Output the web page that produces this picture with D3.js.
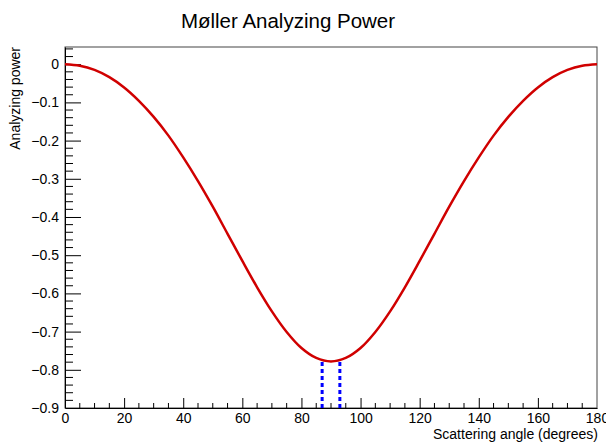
<!DOCTYPE html>
<html>
<head>
<meta charset="utf-8">
<script src="https://cdn.jsdelivr.net/npm/d3@7"></script>
<style>
  body { margin: 0; background: #fff; }
  svg { display: block; font-family: "Liberation Sans", Arial, sans-serif; }
</style>
</head>
<body>
<div id="chart"></div>
<script>
/* DATA */
const angles = [0, 5, 10, 15, 20, 25, 30, 35, 40, 45, 50, 55, 60, 65, 70, 75, 80, 85, 90,
  95, 100, 105, 110, 115, 120, 125, 130, 135, 140, 145, 150, 155, 160, 165, 170, 175, 180];
const power = [0, -0.004, -0.015, -0.034, -0.061, -0.096, -0.138, -0.187, -0.244, -0.306,
  -0.373, -0.444, -0.515, -0.584, -0.647, -0.701, -0.743, -0.769, -0.778,
  -0.769, -0.743, -0.701, -0.647, -0.584, -0.515, -0.444, -0.373, -0.306,
  -0.244, -0.187, -0.138, -0.096, -0.061, -0.034, -0.015, -0.004, 0];
const markerAngles = [87, 93];
const markerTops = [-0.775, -0.775];
const xTicks = [0, 20, 40, 60, 80, 100, 120, 140, 160, 180];
const yTicks = [0, -0.1, -0.2, -0.3, -0.4, -0.5, -0.6, -0.7, -0.8, -0.9];

/* LAYOUT */
const width = 606, height = 446;
const margin = { top: 47, right: 9, bottom: 38, left: 65 };

const svg = d3.select("#chart").append("svg")
  .attr("width", width)
  .attr("height", height);

const xScale = d3.scaleLinear()
  .domain([0, 180])
  .range([margin.left, width - margin.right]);

const yScale = d3.scaleLinear()
  .domain([-0.9, 0.045])
  .range([height - margin.bottom, margin.top]);

// frame
svg.append("rect")
  .attr("x", margin.left)
  .attr("y", margin.top)
  .attr("width", width - margin.left - margin.right)
  .attr("height", height - margin.top - margin.bottom)
  .attr("fill", "none")
  .attr("stroke", "#444")
  .attr("stroke-width", 1);

// x axis: major every 20, minor every 5
const xAxis = d3.axisBottom(xScale)
  .tickValues(xTicks)
  .tickFormat(d3.format("d"))
  .tickSizeInner(-10)
  .tickSizeOuter(0)
  .tickPadding(5);
const gx = svg.append("g")
  .attr("transform", `translate(0, ${height - margin.bottom})`)
  .call(xAxis);
gx.selectAll(".tick")
  .filter(d => d === 0 || d === 180)
  .select("line").remove();
gx.selectAll("text").attr("font-size", 14).attr("fill", "#000");

const xMinor = d3.range(0, 181, 5).filter(d => d % 20 !== 0);
svg.append("g").selectAll("line")
  .data(xMinor)
  .join("line")
  .attr("x1", d => xScale(d)).attr("x2", d => xScale(d))
  .attr("y1", height - margin.bottom).attr("y2", height - margin.bottom - 5)
  .attr("stroke", "#000");

// y axis: major every 0.1, minor every 0.02
const yAxis = d3.axisLeft(yScale)
  .tickValues(yTicks)
  .tickFormat(d => d === 0 ? "0" : d3.format(".1f")(d))
  .tickSizeInner(-16)
  .tickSizeOuter(0)
  .tickPadding(4);
const gy = svg.append("g")
  .attr("transform", `translate(${margin.left}, 0)`)
  .call(yAxis);
gy.selectAll(".tick").filter(d => d === -0.9).select("line").remove();
gy.selectAll("text").attr("font-size", 14).attr("fill", "#000")
  .attr("dx", -2);

const yMinor = d3.range(-44, 3).map(i => i * 0.02)
  .filter(d => Math.abs(Math.round(d * 10) - d * 10) > 1e-6);
svg.append("g").selectAll("line")
  .data(yMinor)
  .join("line")
  .attr("x1", margin.left).attr("x2", margin.left + 8)
  .attr("y1", d => yScale(d)).attr("y2", d => yScale(d))
  .attr("stroke", "#000");

// curve
const points = angles.map((a, i) => ({ a, p: power[i] }));
const line = d3.line()
  .x(d => xScale(d.a))
  .y(d => yScale(d.p))
  .curve(d3.curveCatmullRom);
svg.append("path")
  .datum(points)
  .attr("d", line)
  .attr("fill", "none")
  .attr("stroke", "#d00000")
  .attr("stroke-width", 2.5);

// blue dashed markers
svg.append("g").selectAll("line")
  .data(markerAngles)
  .join("line")
  .attr("x1", d => xScale(d)).attr("x2", d => xScale(d))
  .attr("y1", yScale(-0.9))
  .attr("y2", (d, i) => yScale(markerTops[i]))
  .attr("stroke", "#0000ff")
  .attr("stroke-width", 3)
  .attr("stroke-dasharray", "4,3");

// title and labels
svg.append("text")
  .attr("x", 288).attr("y", 28)
  .attr("text-anchor", "middle")
  .attr("font-size", 20.5)
  .text("Møller Analyzing Power");

svg.append("text")
  .attr("x", width - margin.right + 1).attr("y", 439)
  .attr("text-anchor", "end")
  .attr("font-size", 14)
  .text("Scattering angle (degrees)");

svg.append("text")
  .attr("transform", `translate(20, ${margin.top}) rotate(-90)`)
  .attr("text-anchor", "end")
  .attr("font-size", 14)
  .text("Analyzing power");
</script>
</body>
</html>
